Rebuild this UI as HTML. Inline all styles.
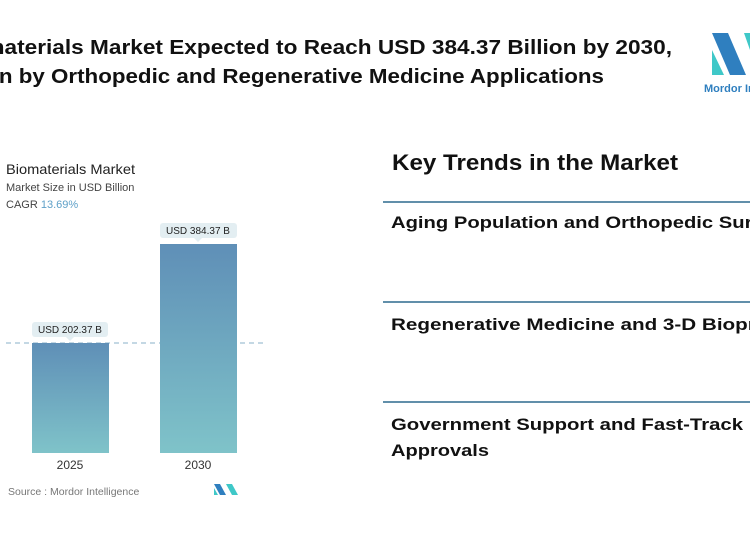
<!DOCTYPE html>
<html><head><meta charset="utf-8"><style>
html,body{margin:0;padding:0;background:#fff;width:750px;height:536px;overflow:hidden}
svg{display:block}
</style></head><body>
<svg width="750" height="536" xmlns="http://www.w3.org/2000/svg" font-family="Liberation Sans, sans-serif">
<defs>
<linearGradient id="g" x1="0" y1="0" x2="0" y2="1">
<stop offset="0" stop-color="#5f8fb7"/><stop offset="1" stop-color="#7fc3c9"/>
</linearGradient>
</defs>
<text x="-52" y="54" font-size="20" font-weight="bold" fill="#111" textLength="724" lengthAdjust="spacingAndGlyphs">Biomaterials Market Expected to Reach USD 384.37 Billion by 2030,</text>
<text x="-57" y="83" font-size="20" font-weight="bold" fill="#111" textLength="661" lengthAdjust="spacingAndGlyphs">Driven by Orthopedic and Regenerative Medicine Applications</text>
<!-- logo -->
<polygon points="712,33 728,33 746,75 730,75" fill="#2f7fbf"/>
<polygon points="712,50 712,75 724,75" fill="#3fc8c8"/>
<polygon points="744,33 750,33 750,50" fill="#3fc8c8"/>
<text x="704" y="92" font-size="11" font-weight="bold" fill="#2f7fbf">Mordor In</text>

<text x="6" y="174" font-size="14" fill="#222" textLength="129" lengthAdjust="spacingAndGlyphs">Biomaterials Market</text>
<text x="6" y="191" font-size="11" fill="#444">Market Size in USD Billion</text>
<text x="6" y="208" font-size="11" fill="#444">CAGR <tspan fill="#5ea0c8">13.69%</tspan></text>

<line x1="6" y1="343" x2="266" y2="343" stroke="#8ab0c8" stroke-dasharray="5,4" stroke-width="1"/>
<rect x="32" y="343" width="77" height="110" fill="url(#g)"/>
<rect x="160" y="244" width="77" height="209" fill="url(#g)"/>

<rect x="32" y="322" width="76" height="15" rx="3" fill="#e3eef2"/>
<polygon points="66,337 74,337 70,341" fill="#e3eef2"/>
<text x="70" y="333" text-anchor="middle" font-size="10" fill="#222">USD 202.37 B</text>
<rect x="160" y="223" width="77" height="15" rx="3" fill="#e3eef2"/>
<polygon points="194,238 202,238 198,242" fill="#e3eef2"/>
<text x="198" y="234" text-anchor="middle" font-size="10" fill="#222">USD 384.37 B</text>

<text x="70" y="469" text-anchor="middle" font-size="12" fill="#333">2025</text>
<text x="198" y="469" text-anchor="middle" font-size="12" fill="#333">2030</text>
<text x="8" y="495" font-size="10.5" fill="#777">Source :  Mordor Intelligence</text>
<polygon points="214,484 220,484 226,495 220,495" fill="#2f7fbf"/>
<polygon points="226,484 232,484 238,495 232,495" fill="#3fc8c8"/>
<polygon points="214,488 214,495 218,495" fill="#3fc8c8"/>

<text x="392" y="170" font-size="22" font-weight="bold" fill="#111" textLength="286" lengthAdjust="spacingAndGlyphs">Key Trends in the Market</text>
<line x1="383" y1="202" x2="750" y2="202" stroke="#2d6a8e" stroke-width="1.5"/>
<text x="391" y="228" font-size="17" font-weight="bold" fill="#111" textLength="421" lengthAdjust="spacingAndGlyphs">Aging Population and Orthopedic Surgeries</text>
<line x1="383" y1="302" x2="750" y2="302" stroke="#2d6a8e" stroke-width="1.5"/>
<text x="391" y="330" font-size="17" font-weight="bold" fill="#111" textLength="421" lengthAdjust="spacingAndGlyphs">Regenerative Medicine and 3-D Bioprinting</text>
<line x1="383" y1="402" x2="750" y2="402" stroke="#2d6a8e" stroke-width="1.5"/>
<text x="391" y="430" font-size="17" font-weight="bold" fill="#111" textLength="352" lengthAdjust="spacingAndGlyphs">Government Support and Fast-Track</text>
<text x="391" y="456" font-size="17" font-weight="bold" fill="#111" textLength="98" lengthAdjust="spacingAndGlyphs">Approvals</text>
</svg>
</body></html>
